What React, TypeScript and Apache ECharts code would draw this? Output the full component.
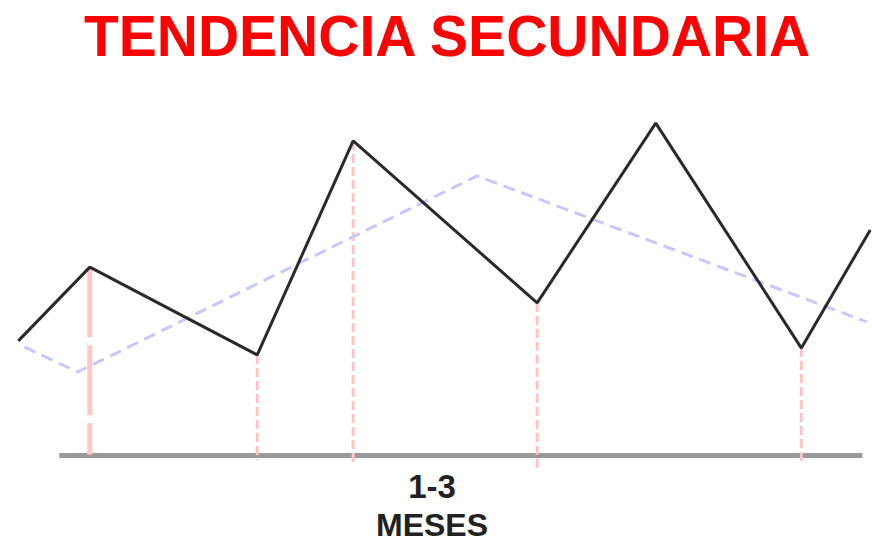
import React, { useEffect, useRef } from "react";
import * as echarts from "echarts";

// Primary price movement (x: time units 0-100, y: price units above baseline)
const priceX = [2.1, 10.3, 29.5, 40.5, 61.6, 75.2, 91.9, 99.8];
const priceY = [30.3, 49.7, 26.6, 82.9, 40.3, 87.6, 28.4, 59.5];

// Secondary trend (blue dashed)
const trendX = [2.8, 8.9, 54.7, 99.4];
const trendY = [28.7, 22.1, 73.7, 35.3];

// Vertical drop lines: index into price points, and lower end value
const dropIndex = [1, 2, 3, 4, 6];
const dropEnd = [0.3, -1.1, -1.6, -3.2, -1.6];

// Baseline
const baseX = [6.8, 98.9];
const baseY = [0.1, 0.1];

const titleText = "TENDENCIA SECUNDARIA";
const periodText = "1-3";
const unitText = "MESES";

export default function App() {
  const ref = useRef<HTMLDivElement>(null);
  useEffect(() => {
    if (!ref.current) return;
    const chart = echarts.init(ref.current, undefined, { renderer: "svg" });
    const font = '"Liberation Sans", Arial, sans-serif';
    const drops = dropIndex.map((idx, i) => ({
      type: "line",
      clip: false,
      silent: true,
      symbol: "none",
      z: 1,
      lineStyle: {
        color: i === 0 ? "#ffc8c8" : "#ffc4c4",
        width: i === 0 ? 5 : 3,
        type: i === 0 ? [70, 8] : [9, 4],
      },
      data: [
        [priceX[idx], priceY[idx]],
        [priceX[idx], dropEnd[i]],
      ],
    }));
    chart.setOption({
      animation: false,
      grid: { left: 0, right: 0, top: 76, bottom: 87 },
      xAxis: { type: "value", min: 0, max: 100, show: false },
      yAxis: { type: "value", min: 0, max: 100, show: false },
      graphic: [
        {
          type: "text",
          x: 447,
          y: 36,
          style: {
            text: titleText,
            font: `bold 57px ${font}`,
            fill: "#ff0000",
            align: "center",
            verticalAlign: "middle",
          },
        },
        {
          type: "text",
          x: 432,
          y: 486,
          style: {
            text: periodText,
            font: `bold 33px ${font}`,
            fill: "#222222",
            align: "center",
            verticalAlign: "middle",
          },
        },
        {
          type: "text",
          x: 432,
          y: 525,
          style: {
            text: unitText,
            font: `bold 32px ${font}`,
            fill: "#222222",
            align: "center",
            verticalAlign: "middle",
          },
        },
      ],
      series: [
        {
          type: "line",
          clip: false,
          silent: true,
          symbol: "none",
          z: 0,
          lineStyle: { color: "#9a9a9a", width: 5 },
          data: baseX.map((x, i) => [x, baseY[i]]),
        },
        ...drops,
        {
          type: "line",
          clip: false,
          silent: true,
          symbol: "none",
          z: 2,
          lineStyle: { color: "#c8c8ff", width: 3, type: [12, 7] },
          data: trendX.map((x, i) => [x, trendY[i]]),
        },
        {
          type: "line",
          clip: false,
          silent: true,
          symbol: "none",
          z: 3,
          lineStyle: { color: "#2a2a2a", width: 3 },
          data: priceX.map((x, i) => [x, priceY[i]]),
        },
      ],
    });
    return () => chart.dispose();
  }, []);
  return (
    <div
      ref={ref}
      style={{ position: "absolute", left: 0, top: 0, width: 872, height: 543, background: "#fff" }}
    />
  );
}
